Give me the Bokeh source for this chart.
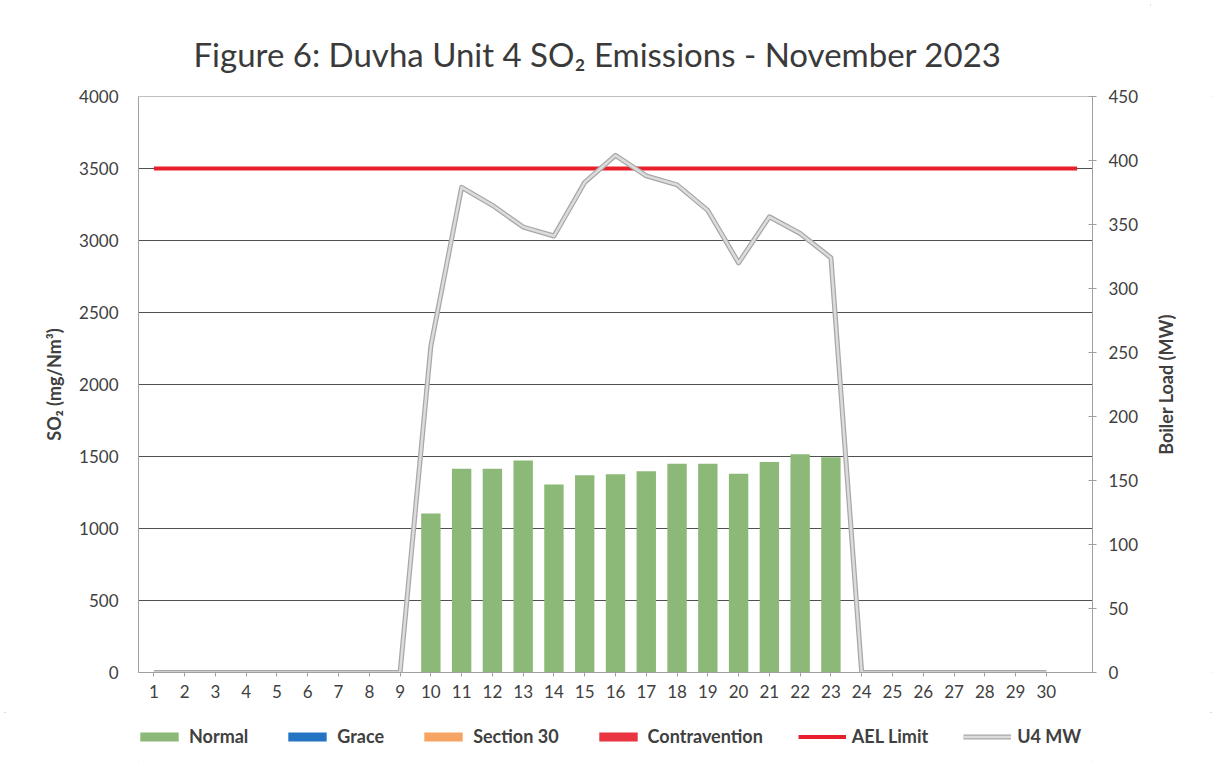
import math
from bokeh.plotting import figure
from bokeh.layouts import row, column
from bokeh.core.properties import value
from bokeh.models import Range1d, LinearAxis, FixedTicker, Legend, LegendItem, ColumnDataSource
from bokeh.embed import file_html
from bokeh.resources import INLINE

# ---- data ----
days = list(range(1, 31))
normal = [0] * 9 + [1105, 1415, 1415, 1472, 1305, 1370, 1377, 1398, 1450, 1450,
                    1381, 1462, 1515, 1495] + [0] * 7
grace = [0] * 30
section30 = [0] * 30
contravention = [0] * 30
ael_days = list(range(1, 32))
ael_limit = [3500] * 31
u4_mw = [0] * 9 + [255, 379, 365, 348, 341, 383, 404, 388, 381, 361,
                   320, 356, 343, 324] + [0] * 7
left_ticks = list(range(0, 4001, 500))
right_ticks = list(range(0, 451, 50))
series_names = ["Normal", "Grace", "Section 30", "Contravention", "AEL Limit", "U4 MW"]
right_label = "Boiler Load (MW)"

FONT = "Lato"
TXT = "#404040"
C_NORMAL, C_GRACE, C_S30, C_CON, C_AEL = "#8cb978", "#2474c4", "#f5a463", "#e8353f", "#e8202c"
C_MW_OUT, C_MW_IN = "#a8a8a8", "#dcdcdc"

b_grace = [n for n in normal]
b_s30 = [n + g for n, g in zip(normal, grace)]
b_con = [n + g + s for n, g, s in zip(normal, grace, section30)]

src = ColumnDataSource(dict(day=days, normal=normal,
                            grace_top=[b + g for b, g in zip(b_grace, grace)], grace_bot=b_grace,
                            s30_top=[b + s for b, s in zip(b_s30, section30)], s30_bot=b_s30,
                            con_top=[b + c for b, c in zip(b_con, contravention)], con_bot=b_con,
                            mw=u4_mw))

p = figure(width=1150, height=712, output_backend="svg", toolbar_location=None,
           x_range=Range1d(0.5, 31.5), y_range=Range1d(0, 4000),
           min_border_left=138, min_border_right=58, min_border_top=96, min_border_bottom=40)
p.extra_y_ranges = {"mw": Range1d(0, 450)}
p.background_fill_color = "white"
p.border_fill_color = "white"
p.outline_line_color = "#c0c0c0"

p.title.text = "Figure 6: Duvha Unit 4 SO\u2082 Emissions -  November 2023"
p.title.align = "left"
p.title.offset = 55
p.title.text_font = FONT
p.title.text_font_style = "normal"
p.title.text_font_size = "33px"
p.title.text_color = "#3a3a3a"
p.title.standoff = 46

# grid
p.xgrid.visible = False
p.ygrid.ticker = FixedTicker(ticks=left_ticks[1:-1])
p.ygrid.grid_line_color = "#505050"
p.ygrid.grid_line_width = 1.2

# x axis
xa = p.xaxis[0]
xa.ticker = FixedTicker(ticks=days)
xa.axis_line_color = "#a0a0a0"
xa.major_tick_line_color = "#a0a0a0"
xa.major_tick_out = 4
xa.major_tick_in = 0
xa.minor_tick_line_color = None
xa.major_label_text_font = FONT
xa.major_label_text_font_size = "17px"
xa.major_label_text_color = TXT
xa.major_label_standoff = 8

# left axis
ya = p.yaxis[0]
ya.ticker = FixedTicker(ticks=left_ticks)
ya.axis_line_color = "#a0a0a0"
ya.major_tick_line_color = None
ya.minor_tick_line_color = None
ya.major_label_text_font = FONT
ya.major_label_text_font_size = "17px"
ya.major_label_text_color = TXT
ya.major_label_standoff = 14
ya.axis_label = "SO\u2082 (mg/Nm\u00b3)"
ya.axis_label_text_font = FONT
ya.axis_label_text_font_style = "bold"
ya.axis_label_text_font_size = "18px"
ya.axis_label_text_color = TXT
ya.axis_label_standoff = 11

# right axis (its title is drawn in the strip to the right, reading upwards)
ra = LinearAxis(y_range_name="mw", ticker=FixedTicker(ticks=right_ticks))
ra.axis_line_color = "#a0a0a0"
ra.major_tick_line_color = "#a0a0a0"
ra.major_tick_in = 4
ra.major_tick_out = 4
ra.minor_tick_line_color = None
ra.major_label_text_font = FONT
ra.major_label_text_font_size = "17px"
ra.major_label_text_color = TXT
ra.major_label_standoff = 12
p.add_layout(ra, "right")

W = 0.63
p.vbar(x="day", top="normal", bottom=0, width=W, source=src, fill_color=C_NORMAL, line_color=None)
p.vbar(x="day", top="grace_top", bottom="grace_bot", width=W, source=src, fill_color=C_GRACE, line_color=None)
p.vbar(x="day", top="s30_top", bottom="s30_bot", width=W, source=src, fill_color=C_S30, line_color=None)
p.vbar(x="day", top="con_top", bottom="con_bot", width=W, source=src, fill_color=C_CON, line_color=None)
p.line(ael_days, ael_limit, line_color=C_AEL, line_width=4)
p.line(x="day", y="mw", source=src, y_range_name="mw", line_color=C_MW_OUT, line_width=5, line_join="round")
p.line(x="day", y="mw", source=src, y_range_name="mw", line_color=C_MW_IN, line_width=2.5, line_join="round")

# ---- narrow strip holding the right axis title ----
rf = figure(width=66, height=712, output_backend="svg", toolbar_location=None,
            x_range=Range1d(0, 1), y_range=Range1d(0, 1), x_axis_location=None, y_axis_location=None,
            min_border_left=0, min_border_right=0, min_border_top=96, min_border_bottom=40)
rf.outline_line_color = None
rf.grid.visible = False
rf.border_fill_color = "white"
rf.text(x=[15 / 66], y=[0.5], text=[right_label], angle=math.pi / 2,
        text_align="center", text_baseline="middle", text_font_size="18px",
        text_font_style="bold", text_color=TXT, text_font=value(FONT))

# ---- legend strip below the chart ----
lg = figure(width=1216, height=55, output_backend="svg", toolbar_location=None,
            x_range=Range1d(0, 1), y_range=Range1d(0, 1), x_axis_location=None, y_axis_location=None,
            min_border_left=138, min_border_right=124, min_border_top=0, min_border_bottom=0)
lg.outline_line_color = None
lg.grid.visible = False
lg.border_fill_color = "white"
lg.background_fill_color = "white"
ox = [-5.0]   # legend-only proxies, placed outside the visible range
oy = [-5.0]
l_n = lg.vbar(x=ox, top=oy, bottom=[-6.0], width=0.1, fill_color=C_NORMAL, line_color=None)
l_g = lg.vbar(x=ox, top=oy, bottom=[-6.0], width=0.1, fill_color=C_GRACE, line_color=None)
l_s = lg.vbar(x=ox, top=oy, bottom=[-6.0], width=0.1, fill_color=C_S30, line_color=None)
l_c = lg.vbar(x=ox, top=oy, bottom=[-6.0], width=0.1, fill_color=C_CON, line_color=None)
l_a = lg.line(x=ox, y=oy, line_color=C_AEL, line_width=4)
l_mo = lg.line(x=ox, y=oy, line_color=C_MW_OUT, line_width=5)
l_mi = lg.line(x=ox, y=oy, line_color=C_MW_IN, line_width=2.5)
rends = [[l_n], [l_g], [l_s], [l_c], [l_a], [l_mo, l_mi]]
legend = Legend(items=[LegendItem(label=n, renderers=r) for n, r in zip(series_names, rends)],
                orientation="horizontal", location=(-3, 20))
legend.label_text_font = FONT
legend.label_text_font_style = "bold"
legend.label_text_font_size = "18px"
legend.label_text_color = TXT
legend.glyph_width = 48
legend.glyph_height = 11
legend.label_standoff = 6
legend.spacing = 35
legend.border_line_color = None
legend.background_fill_alpha = 0
legend.padding = 0
legend.margin = 0
lg.add_layout(legend)

layout = column(row(p, rf, spacing=0), lg, spacing=0)
layout.styles = {"outline": "2px solid #cfcfcf", "outline-offset": "-6px"}
open("out.html", "w").write(file_html(layout, INLINE))
